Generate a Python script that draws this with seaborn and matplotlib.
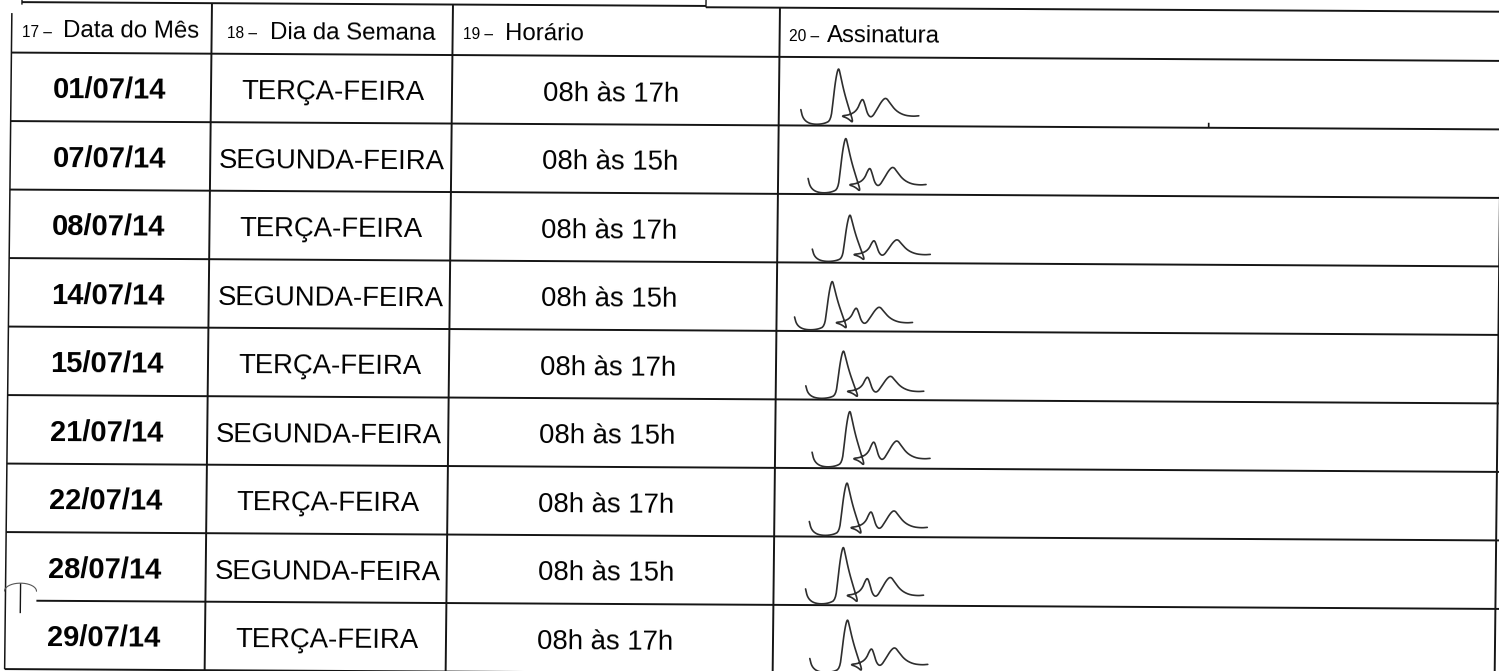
import numpy as np
import pandas as pd
import seaborn as sns
import matplotlib.pyplot as plt

# table content
header_nums = ["17 –", "18 –", "19 –", "20 –"]
header_titles = ["Data do Mês", "Dia da Semana", "Horário", "Assinatura"]
datas = ["01/07/14", "07/07/14", "08/07/14", "14/07/14", "15/07/14",
         "21/07/14", "22/07/14", "28/07/14", "29/07/14"]
dias = ["TERÇA-FEIRA", "SEGUNDA-FEIRA", "TERÇA-FEIRA", "SEGUNDA-FEIRA", "TERÇA-FEIRA",
        "SEGUNDA-FEIRA", "TERÇA-FEIRA", "SEGUNDA-FEIRA", "TERÇA-FEIRA"]
horarios = ["08h às 17h", "08h às 15h", "08h às 17h", "08h às 15h", "08h às 17h",
            "08h às 15h", "08h às 17h", "08h às 15h", "08h às 17h"]

# where each signature starts and how tall it is
sig_start = [802, 810, 815, 798, 810, 817, 815, 812, 817]
sig_height = [55, 54, 46, 48, 47, 55, 52, 56, 52]

# layout of the form (page coords in px)
col_x = [12, 212, 453, 780, 1502]
head_top = 2.5
row_top = 52.5
row_h = 68.5
SH, SV = 0.0056, 0.011   # slight skew of the scan

def sk(X, Y):
    X = np.asarray(X, dtype=float)
    Y = np.asarray(Y, dtype=float)
    return X - SV * Y, Y + SH * X

sns.set_theme(style="white")
plt.rcParams['font.family'] = ['Liberation Sans', 'DejaVu Sans']

fig = plt.figure(figsize=(14.99, 6.71), dpi=100)
ax = fig.add_axes([0, 0, 1, 1])
ink = "#151515"
lw = 1.4

def hline(x0, x1, y, **kw):
    xs, ys = sk([x0, x1], [y, y])
    ax.plot(xs, ys, color=ink, lw=kw.get("lw", lw), solid_capstyle="butt")

def vline(x, y0, y1, **kw):
    xs, ys = sk([x, x], [y0, y1])
    ax.plot(xs, ys, color=ink, lw=kw.get("lw", lw), solid_capstyle="butt")

n = len(datas)
bottom = row_top + n * row_h

# top border (broken in the scan)
hline(22, 706, head_top - 0.5)
hline(706, 1510, head_top + 0.8)
vline(22, -4, head_top + 2, lw=1.0)
vline(706, -4, head_top + 1, lw=1.0)

# header bottom and row lines
hline(col_x[0], 1510, row_top)
for i in range(1, n + 1):
    y = row_top + i * row_h
    x0 = 43 if i == n - 1 else col_x[0]
    hline(x0, 1510, y)
vline(1210, row_top + row_h - 5, row_top + row_h, lw=1.2)

# vertical lines
vline(col_x[0], 13, bottom, lw=1.1)
for cx in col_x[1:3]:
    vline(cx, head_top, bottom)
vline(col_x[3], head_top + 1, bottom)
vline(col_x[4], 120, bottom)

# small mark at lower left
vline(27, 583, 613, lw=1.0)
t = np.linspace(0, np.pi, 20)
xs, ys = sk(27 - 16 * np.cos(t), 591 - 8 * np.sin(t))
ax.plot(xs, ys, color="#555555", lw=0.8)

rot = -np.degrees(np.arctan(SH))

# header text
num_x = [22, 227, 463, 789]
title_x = [63, 270, 505, 827]
for i in range(4):
    x, y = sk(num_x[i], 36.5)
    ax.text(x, y, header_nums[i], fontsize=11.2, ha="left", va="baseline",
            color="black", rotation=rot, rotation_mode="anchor")
    x, y = sk(title_x[i], 37)
    ax.text(x, y, header_titles[i], fontsize=17.3, ha="left", va="baseline",
            color="black", rotation=rot, rotation_mode="anchor")

# row text
centers = [111, 334, 612]
for i in range(n):
    base = row_top + i * row_h + 45.3
    for j, (txt, wt, fs) in enumerate([(datas[i], "bold", 21),
                                       (dias[i], "normal", 19.8),
                                       (horarios[i], "normal", 19.8)]):
        x, y = sk(centers[j], base)
        ax.text(x, y, txt, fontsize=fs, fontweight=wt, ha="center", va="baseline",
                color="black", rotation=rot, rotation_mode="anchor")

# signature stroke shape (dx px from start, height fraction)
stroke = [(0, 0.27), (2, 0.12), (7, 0.03), (15, 0.0), (24, 0.02), (30, 0.08),
          (32, 0.4), (34, 0.75), (36, 0.97), (37.5, 1.03), (39, 0.92), (43, 0.6),
          (48, 0.3), (53, 0.02), (47, 0.12), (40, 0.16), (49, 0.18), (56, 0.26),
          (60, 0.44), (62, 0.47), (64, 0.37), (67, 0.18), (71, 0.13), (76, 0.28),
          (81, 0.44), (85, 0.5), (89, 0.4), (95, 0.26), (103, 0.18), (112, 0.16),
          (118, 0.17)]

def chaikin(pts, it=2):
    p = np.array(pts, dtype=float)
    for _ in range(it):
        q = 0.75 * p[:-1] + 0.25 * p[1:]
        r = 0.25 * p[:-1] + 0.75 * p[1:]
        p = np.vstack([p[:1], np.column_stack([q, r]).reshape(-1, 2), p[-1:]])
    return p

shape = chaikin(stroke)
frames = []
for i in range(n):
    base = row_top + (i + 1) * row_h - 1
    X = sig_start[i] + shape[:, 0]
    Y = base - shape[:, 1] * sig_height[i]
    xs, ys = sk(X, Y)
    frames.append(pd.DataFrame({"x": xs, "y": ys, "row": i}))
sig = pd.concat(frames, ignore_index=True)
sns.lineplot(data=sig, x="x", y="y", units="row", estimator=None, sort=False,
             color="#2e2e2e", lw=1.2, ax=ax, legend=False)

ax.set_xlim(0, 1499)
ax.set_ylim(671, 0)
ax.axis("off")
fig.savefig("out.png", dpi=100)
